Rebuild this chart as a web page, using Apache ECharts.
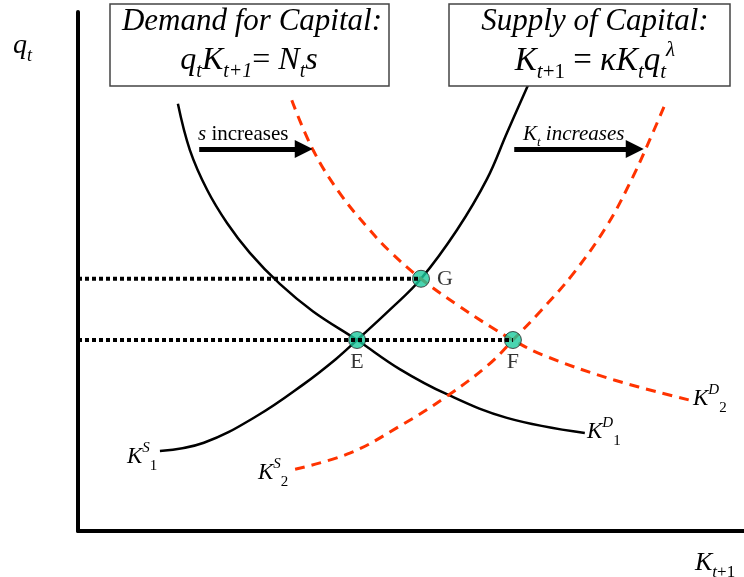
<!DOCTYPE html>
<html>
<head>
<meta charset="utf-8">
<script src="https://cdn.jsdelivr.net/npm/echarts@6/dist/echarts.min.js"></script>
<style>
html, body { margin: 0; padding: 0; background: #fff; }
#chart { width: 744px; height: 577px; }
</style>
</head>
<body>
<div id="chart"></div>
<script>
// curves (abstract units, 0-100 on both axes)
const demand1 = [[15.0,82.3],[16.8,73.4],[19.4,65.7],[22.4,59.3],[25.8,53.6],[30.3,47.6],[35.3,42.3],[41.9,36.8],[48.3,31.2],[55.3,26.4],[64.4,21.8],[76.1,18.9]];
const supply1 = [[12.3,15.4],[18.9,17.0],[26.9,22.2],[33.9,28.3],[38.7,33.1],[41.9,36.8],[46.8,42.6],[51.5,48.6],[56.9,58.0],[61.4,67.8],[64.4,76.7],[67.6,86.0]];
const demand2 = [[32.1,83.0],[35.3,73.4],[39.3,65.1],[43.4,58.6],[46.8,53.9],[51.5,48.6],[56.9,43.6],[61.9,39.4],[65.3,36.8],[69.8,33.9],[80.5,29.1],[91.9,25.2]];
const supply2 = [[32.6,11.9],[40.8,15.0],[48.3,20.2],[55.3,25.9],[61.7,32.1],[65.3,36.8],[69.4,42.3],[74.3,49.5],[79.4,58.8],[83.3,68.2],[86.3,76.7],[88.4,83.0]];

const pointNames = ['E', 'G', 'F'];
const pointXY = [[41.9,36.8],[51.5,48.6],[65.3,36.8]];

const sArrow = [[18.2,73.6],[33.9,73.6]];
const kArrow = [[65.5,73.6],[83.6,73.6]];

const RED = '#ff3300';
const SERIF = '"Liberation Serif", "DejaVu Serif", serif';

let chart = echarts.init(document.getElementById('chart'));

function curve(name, data, color, dashed) {
	return {
		type: 'line',
		name: name,
		data: data,
		smooth: 0.4,
		symbol: 'none',
		z: 2,
		lineStyle: {
			color: color,
			width: dashed ? 3 : 2.5,
			type: dashed ? [10, 7] : 'solid'
		}
	};
}

function guide(toIndex) {
	return {
		type: 'line',
		data: [[0, pointXY[toIndex][1]], pointXY[toIndex]],
		symbol: 'none',
		z: 5,
		lineStyle: { color: '#000', width: 4, type: [4, 3] }
	};
}

function arrow(coords) {
	return {
		type: 'lines',
		coordinateSystem: 'cartesian2d',
		z: 4,
		symbol: ['none', 'triangle'],
		symbolSize: [17, 18],
		lineStyle: { color: '#000', width: 5, opacity: 1 },
		data: [{ coords: coords }]
	};
}

// rich styles for the math-ish text
const rich = (size) => {
	const s = Math.round(size * 0.64);
	return {
		i: { fontFamily: SERIF, fontStyle: 'italic', fontSize: size, lineHeight: size + 10, color: '#000' },
		r: { fontFamily: SERIF, fontSize: size, lineHeight: size + 10, color: '#000' },
		sub: { fontFamily: SERIF, fontStyle: 'italic', fontSize: s, lineHeight: s, verticalAlign: 'bottom', color: '#000' },
		subr: { fontFamily: SERIF, fontSize: s, lineHeight: s, verticalAlign: 'bottom', color: '#000' },
		sup: { fontFamily: SERIF, fontStyle: 'italic', fontSize: s, lineHeight: s, verticalAlign: 'top', color: '#000' }
	};
};

function txt(text, x, y, size, align) {
	return {
		type: 'text',
		z: 10,
		style: {
			text: text,
			x: x,
			y: y,
			align: align || 'left',
			verticalAlign: 'middle',
			rich: rich(size)
		}
	};
}

chart.setOption({
	animation: false,
	grid: { left: 78, right: 0, top: 12, bottom: 46 },
	xAxis: {
		type: 'value', min: 0, max: 100,
		axisLine: { show: true, lineStyle: { color: '#000', width: 4 } },
		axisTick: { show: false }, axisLabel: { show: false }, splitLine: { show: false }
	},
	yAxis: {
		type: 'value', min: 0, max: 100,
		axisLine: { show: true, lineStyle: { color: '#000', width: 4 } },
		axisTick: { show: false }, axisLabel: { show: false }, splitLine: { show: false }
	},
	series: [
		curve('KD1', demand1, '#000', false),
		curve('KS1', supply1, '#000', false),
		curve('KD2', demand2, RED, true),
		curve('KS2', supply2, RED, true),
		{
			type: 'scatter',
			z: 4,
			symbolSize: 17,
			itemStyle: { color: '#1ccb9d', borderColor: '#222', borderWidth: 1 },
			label: { show: true, formatter: '{b}', fontFamily: SERIF, fontSize: 22, color: '#000' },
			data: pointNames.map((n, k) => ({
				name: n,
				value: pointXY[k],
				label: n === 'G' ? { position: 'right', distance: 7 } : { position: 'bottom', distance: 2 }
			}))
		},
		guide(1),
		guide(2),
		arrow(sArrow),
		arrow(kArrow)
	],
	graphic: [
		{ type: 'rect', z: 9, shape: { x: 110, y: 4, width: 279, height: 82 }, style: { fill: '#fff', stroke: '#444', lineWidth: 1.5 } },
		{ type: 'rect', z: 9, shape: { x: 449, y: 4, width: 281, height: 82 }, style: { fill: '#fff', stroke: '#444', lineWidth: 1.5 } },
		txt('{i|Demand for Capital:}', 252, 22, 31, 'center'),
		txt('{i|q}{sub|t}{i|K}{sub|t+1}{r|= }{i|N}{sub|t}{i|s}', 249, 61, 32, 'center'),
		txt('{i|Supply of Capital:}', 595, 22, 31, 'center'),
		txt('{i|K}{sub|t}{subr|+1}{r| = }{i|κK}{sub|t}{i|q}{sub|t}{sup|λ}', 595, 61, 33, 'center'),
		txt('{i|s}{r| increases}', 198, 134, 21),
		txt('{i|K}{sub|t}{i| increases}', 523, 134, 21),
		txt('{i|q}{sub|t}', 13, 46, 28),
		txt('{i|K}{sub|t}{subr|+1}', 695, 563, 26),
		txt('{i|K}{sup|S}{subr|1}', 127, 457, 23),
		txt('{i|K}{sup|S}{subr|2}', 258, 473, 23),
		txt('{i|K}{sup|D}{subr|1}', 587, 432, 23),
		txt('{i|K}{sup|D}{subr|2}', 693, 399, 23)
	]
});
</script>
</body>
</html>
